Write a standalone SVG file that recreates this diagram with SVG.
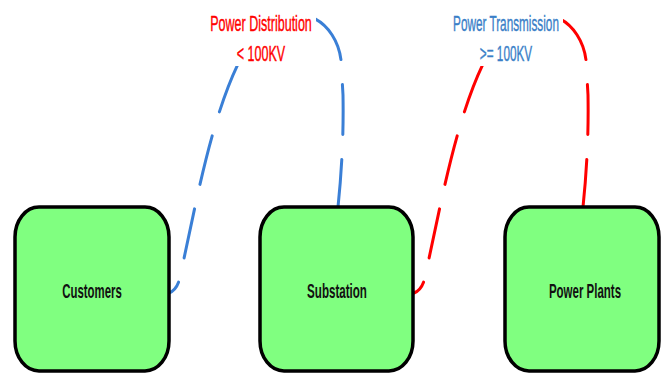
<svg xmlns="http://www.w3.org/2000/svg" width="664" height="374" viewBox="0 0 664 374">
<style>
.box{fill:#80ff80;stroke:#000;stroke-width:3.5}
.nt{font-family:"Liberation Sans",Arial,sans-serif;font-weight:bold;font-size:20px;fill:#111;text-anchor:middle}
.lt{font-family:"Liberation Sans",Arial,sans-serif;font-size:22px;text-anchor:middle;stroke-width:0.4}
.conn{fill:none;stroke-width:3;stroke-linecap:round;stroke-dasharray:50 25;stroke-dashoffset:35}
.bg{fill:#fff}
</style>
<g id="connectors">
<path id="c-dist" class="conn" stroke="#3a7fd6" d="M169,293 C176,290 179,284 181,272 C195,210 210,120 240,60 C255,35 275,15 300,15 C320,15 338,35 341,60 L343,95 Q344,150 338,207"/>
<path id="c-trans" class="conn" stroke="#ff0000" d="M414,293 C421,290 424,284 426,272 C440,210 455,120 485,60 C500,35 520,15 545,15 C565,15 583,35 586,60 L588,95 Q589,150 583,207"/>
</g>
<g id="label-dist">
<rect class="bg" x="206" y="8" width="110" height="58"/>
<text class="lt" fill="#ff0000" stroke="#ff0000" transform="translate(261,0) scale(0.57,1)"><tspan x="0" y="31">Power Distribution</tspan><tspan x="0" y="61">&lt; 100KV</tspan></text>
</g>
<g id="label-trans">
<rect class="bg" x="447" y="8" width="116" height="58"/>
<text class="lt" fill="#3a7fc8" stroke="#3a7fc8" transform="translate(506,0) scale(0.535,1)"><tspan x="0" y="31">Power Transmission</tspan><tspan x="0" y="61">&gt;= 100KV</tspan></text>
</g>
<g id="customers">
<rect class="box" x="15" y="207" width="154" height="164" rx="24" ry="30"/>
<text class="nt" transform="translate(92,298) scale(0.57,1)">Customers</text>
</g>
<g id="substation">
<rect class="box" x="260" y="207" width="153" height="164" rx="24" ry="30"/>
<text class="nt" transform="translate(337,298) scale(0.58,1)">Substation</text>
</g>
<g id="power-plants">
<rect class="box" x="505" y="207" width="154" height="164" rx="24" ry="30"/>
<text class="nt" transform="translate(585,298) scale(0.575,1)">Power Plants</text>
</g>
</svg>
